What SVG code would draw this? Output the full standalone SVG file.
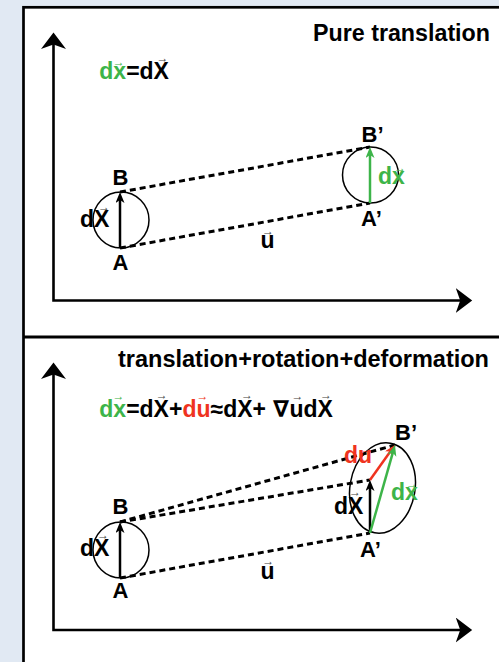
<svg xmlns="http://www.w3.org/2000/svg" width="499" height="662" viewBox="0 0 499 662">
<style>
text{font-family:"Liberation Sans",Arial,"DejaVu Sans",sans-serif;font-weight:bold;fill:#000}
.t{font-size:23px}
.lb{font-size:22px}
.v{font-size:12px;font-weight:normal;fill:#444;text-anchor:middle}
.g{fill:#3db449}
.r{fill:#ef3320}
.mid{text-anchor:middle}
.end{text-anchor:end}
.axis{fill:none;stroke:#000;stroke-width:2.6;stroke-linejoin:miter;marker-start:url(#ax);marker-end:url(#ax)}
.dash{fill:none;stroke:#000;stroke-width:3;stroke-dasharray:6 4}
.circ{fill:none;stroke:#000;stroke-width:1.5}
.vec{fill:none;stroke-width:2.5}
</style>
<defs>
<marker id="ax" markerUnits="userSpaceOnUse" markerWidth="18" markerHeight="26" refX="8" refY="12.5" orient="auto-start-reverse">
<path d="M16.5,12.5 L0,0 L4.5,12.5 L0,25 Z" fill="#000"/>
</marker>
<marker id="hk" markerUnits="userSpaceOnUse" markerWidth="12" markerHeight="10" refX="6" refY="4.5" orient="auto">
<path d="M11,4.5 L0,0 L3,4.5 L0,9 Z" fill="#000"/>
</marker>
<marker id="hg" markerUnits="userSpaceOnUse" markerWidth="12" markerHeight="10" refX="6" refY="4.5" orient="auto">
<path d="M11,4.5 L0,0 L3,4.5 L0,9 Z" fill="#3db449"/>
</marker>
<marker id="hr" markerUnits="userSpaceOnUse" markerWidth="12" markerHeight="10" refX="6" refY="4.5" orient="auto">
<path d="M11,4.5 L0,0 L3,4.5 L0,9 Z" fill="#ef3320"/>
</marker>
</defs>
<rect x="0" y="0" width="499" height="662" fill="#e1e9f3"/>
<g id="panels">
<rect x="23.5" y="7.3" width="500" height="700" fill="#fff" stroke="#000" stroke-width="2.7"/>
<line x1="23.5" y1="337" x2="499" y2="337" stroke="#000" stroke-width="3"/>
</g>

<g id="connectors">
<path class="axis" d="M53.5,41 L53.5,300.5 L463.7,300.5"/>
<path class="axis" d="M53.5,371 L53.5,630 L463.7,630"/>
<line class="dash" x1="120" y1="192" x2="370" y2="147"/>
<line class="dash" x1="120" y1="248" x2="370" y2="203"/>
<line class="dash" x1="120" y1="522" x2="395" y2="445"/>
<line class="dash" x1="120" y1="522" x2="370" y2="480"/>
<line class="dash" x1="120" y1="578" x2="370" y2="533"/>
</g>

<g id="top-title"><text class="t end" x="490" y="41" textLength="177" lengthAdjust="spacingAndGlyphs">Pure translation</text></g>
<g id="top-formula">
<text class="t" x="99.3" y="79"><tspan class="g">dx</tspan>=dX</text>
<text class="v g" x="118.7" y="65.5">→</text>
<text class="v" x="162.5" y="61.5">→</text>
</g>

<g id="top-body-A">
<circle class="circ" cx="121" cy="220" r="28"/>
<line class="vec" stroke="#000" x1="120" y1="248" x2="120" y2="197" marker-end="url(#hk)"/>
<text class="lb mid" x="120.5" y="185">B</text>
<text class="lb mid" x="120.5" y="270">A</text>
<text class="t" x="80" y="227">dX</text>
<text class="v" x="104" y="210.5">→</text>
</g>

<g id="top-u">
<text class="t" x="260.5" y="247.5">u</text>
<text class="v" x="268" y="234.5">→</text>
</g>

<g id="top-body-B">
<circle class="circ" cx="370.5" cy="175" r="28"/>
<line class="vec" stroke="#3db449" x1="370" y1="203" x2="370" y2="152" marker-end="url(#hg)"/>
<text class="lb" x="361.5" y="141.7">B’</text>
<text class="lb" x="361" y="226">A’</text>
<text class="t g" x="378" y="183.5">dx</text>
<text class="v g" x="400" y="172">→</text>
</g>

<g id="bottom-title"><text class="t" x="118" y="367" textLength="371" lengthAdjust="spacingAndGlyphs">translation+rotation+deformation</text></g>
<g id="bottom-formula">
<text class="t" x="99.3" y="417.3"><tspan class="g">dx</tspan>=dX+<tspan class="r">du</tspan>≈dX+</text>
<text class="t" x="273" y="417.3">∇</text>
<text class="t" x="289.5" y="417.3">udX</text>
<text class="v g" x="118.5" y="399.5">→</text>
<text class="v" x="161.7" y="399">→</text>
<text class="v r" x="202.5" y="399.5">→</text>
<text class="v" x="247" y="399">→</text>
<text class="v" x="297.5" y="399.5">→</text>
<text class="v" x="326" y="399">→</text>
</g>

<g id="bottom-body-A">
<circle class="circ" cx="121" cy="550" r="28"/>
<line class="vec" stroke="#000" x1="120" y1="578" x2="120" y2="527" marker-end="url(#hk)"/>
<text class="lb mid" x="120.5" y="513.5">B</text>
<text class="lb mid" x="120.5" y="598">A</text>
<text class="t" x="80" y="556">dX</text>
<text class="v" x="103" y="538.5">→</text>
</g>

<g id="bottom-u">
<text class="t" x="260.5" y="578.5">u</text>
<text class="v" x="268.3" y="564.5">→</text>
</g>

<g id="bottom-body-B">
<ellipse class="circ" cx="382.5" cy="488" rx="32.5" ry="45.5" transform="rotate(10 382.5 488)"/>
<line class="vec" stroke="#000" x1="370" y1="533" x2="370" y2="485" marker-end="url(#hk)"/>
<line class="vec" stroke="#ef3320" x1="370" y1="480" x2="392.1" y2="449.1" marker-end="url(#hr)"/>
<line class="vec" stroke="#3db449" x1="370" y1="533" x2="393.6" y2="449.8" marker-end="url(#hg)"/>
<text class="lb" x="395" y="439.5">B’</text>
<text class="lb" x="360" y="556.5">A’</text>
<text class="t" x="334" y="514">dX</text>
<text class="v" x="355" y="495.5">→</text>
<text class="t r" x="344" y="463">du</text>
<text class="v r" x="366.7" y="453">→</text>
<text class="t g" x="391" y="499.5">dx</text>
<text class="v g" x="412" y="487.5">→</text>
</g>
</svg>
